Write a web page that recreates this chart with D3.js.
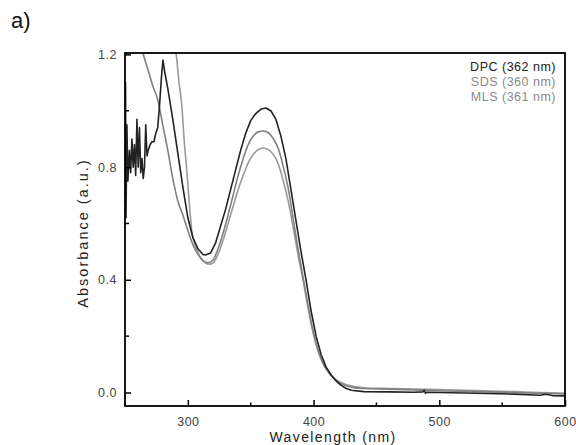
<!DOCTYPE html>
<html>
<head>
<meta charset="utf-8">
<script src="https://cdn.jsdelivr.net/npm/d3@7"></script>
<style>
  body { margin: 0; background: #fff; }
  svg { font-family: 'Liberation Sans', Arial, sans-serif; }
</style>
</head>
<body>
<svg width="576" height="445"></svg>
<script>
// wavelength (nm) / absorbance pairs
const dpcNm = [250, 250.4, 250.8, 251.5, 252.3, 253.5, 254.5, 255.5, 256.5, 257.5, 258.5, 259.5, 260.5, 261.5, 262.5, 263.5, 264.5, 265.5, 266.5, 267.5, 268.5, 270, 271.5, 273, 274.5, 276, 277.5, 279, 280.2, 281.5, 284, 288, 292, 296, 300, 304, 308, 312, 314, 318, 322, 326, 330, 334, 338, 342, 346, 350, 354, 358, 362, 366, 370, 374, 378, 382, 386, 390, 394, 398, 402, 406, 410, 414, 418, 422, 426, 430, 440, 460, 480, 487, 488, 489, 490, 520, 560, 580, 585, 590, 600]
const dpcAbs = [0.85, 1.10, 0.62, 0.95, 0.75, 0.86, 0.78, 0.90, 0.80, 0.88, 0.77, 0.97, 0.80, 0.94, 0.78, 0.83, 0.76, 0.80, 0.95, 0.84, 0.86, 0.88, 0.89, 0.89, 0.92, 0.94, 1.02, 1.12, 1.18, 1.14, 1.08, 0.97, 0.85, 0.73, 0.62, 0.55, 0.51, 0.49, 0.488, 0.495, 0.53, 0.59, 0.65, 0.72, 0.79, 0.86, 0.92, 0.965, 0.99, 1.005, 1.01, 1.0, 0.97, 0.91, 0.83, 0.72, 0.61, 0.50, 0.40, 0.29, 0.20, 0.135, 0.09, 0.062, 0.04, 0.025, 0.014, 0.008, 0.003, 0.002, 0.001, 0.002, 0.008, -0.003, 0.001, -0.002, -0.006, -0.010, -0.006, -0.011, -0.012]

const sdsNm = [262, 264, 268, 272, 276, 280, 284, 288, 292, 296, 300, 304, 308, 312, 316, 320, 324, 328, 332, 336, 340, 344, 348, 352, 356, 360, 364, 368, 372, 376, 380, 384, 388, 392, 396, 400, 404, 408, 412, 416, 420, 424, 430, 440, 460, 480, 500, 520, 540, 560, 580, 600]
const sdsAbs = [1.25, 1.21, 1.15, 1.09, 1.04, 0.95, 0.86, 0.76, 0.68, 0.63, 0.575, 0.525, 0.49, 0.468, 0.46, 0.47, 0.51, 0.565, 0.63, 0.70, 0.77, 0.83, 0.88, 0.91, 0.925, 0.928, 0.922, 0.90, 0.865, 0.80, 0.72, 0.61, 0.50, 0.40, 0.30, 0.21, 0.145, 0.10, 0.072, 0.052, 0.037, 0.027, 0.019, 0.014, 0.012, 0.009, 0.006, 0.004, 0.002, 0.0, -0.003, -0.005]

const mlsNm = [289, 290.6, 293, 295.3, 297, 299.3, 301, 303.3, 306, 310, 314, 317, 320, 324, 328, 332, 336, 340, 344, 348, 352, 356, 360, 364, 368, 372, 376, 380, 384, 388, 392, 396, 400, 404, 408, 412, 416, 420, 426, 432, 440, 460, 480, 500, 520, 540, 560, 580, 600]
const mlsAbs = [1.25, 1.205, 1.10, 1.013, 0.90, 0.78, 0.68, 0.567, 0.52, 0.48, 0.46, 0.455, 0.46, 0.49, 0.54, 0.60, 0.66, 0.72, 0.77, 0.815, 0.845, 0.862, 0.868, 0.862, 0.845, 0.81, 0.75, 0.675, 0.58, 0.48, 0.39, 0.29, 0.205, 0.14, 0.098, 0.07, 0.052, 0.039, 0.028, 0.021, 0.017, 0.014, 0.012, 0.01, 0.008, 0.005, 0.003, 0.0, -0.003]

const seriesNames = ['DPC (362 nm)', 'SDS (360 nm)', 'MLS (361 nm)']
const seriesColors = ['#222222', '#808080', '#9a9a9a']
const xTicks = [300, 400, 500, 600]
const xMinor = [250, 350, 450, 550]
const yTicks = [0.0, 0.4, 0.8, 1.2]
const yMinor = [0.2, 0.6, 1.0]

const svg = d3.select('svg')
const pLeft = 125, pRight = 565, pTop = 53, pBottom = 406

const x = d3.scaleLinear().domain([250, 600]).range([pLeft, pRight])
const y = d3.scaleLinear().domain([-0.048, 1.205]).range([pBottom, pTop])

svg.append('defs').append('clipPath').attr('id', 'clip')
  .append('rect')
  .attr('x', pLeft).attr('y', pTop)
  .attr('width', pRight - pLeft).attr('height', pBottom - pTop)

const series = [
  { nm: dpcNm, abs: dpcAbs },
  { nm: sdsNm, abs: sdsAbs },
  { nm: mlsNm, abs: mlsAbs }
]

const straight = d3.line().x(d => x(d[0])).y(d => y(d[1]))
const smooth = d3.line().x(d => x(d[0])).y(d => y(d[1])).curve(d3.curveMonotoneX)

// draw grey ones first, DPC on top
const order = [2, 1, 0]
order.forEach(i => {
  const pts = series[i].nm.map((n, j) => [n, series[i].abs[j]])
  svg.append('path')
    .attr('clip-path', 'url(#clip)')
    .attr('d', i === 0 ? straight(pts) : smooth(pts))
    .attr('fill', 'none')
    .attr('stroke', seriesColors[i])
    .attr('stroke-width', 1.6)
    .attr('stroke-linejoin', 'round')
})

// frame
svg.append('rect')
  .attr('x', pLeft).attr('y', pTop)
  .attr('width', pRight - pLeft).attr('height', pBottom - pTop)
  .attr('fill', 'none')
  .attr('stroke', '#000')
  .attr('stroke-width', 1.8)

// x axis ticks (inward)
const xAxis = svg.append('g').attr('transform', `translate(0,${pBottom})`)
xAxis.call(d3.axisBottom(x).tickValues(xTicks).tickSizeInner(-6).tickSizeOuter(0).tickPadding(11)
  .tickFormat(d3.format('d')))
xAxis.select('.domain').remove()
xAxis.selectAll('.tick line').attr('stroke', '#000').attr('stroke-width', 1.5)
xAxis.selectAll('text').attr('font-size', 12.5).attr('fill', '#444')
  .attr('letter-spacing', 0.5)
  .attr('font-family', "'Liberation Sans', Arial, sans-serif")
xAxis.selectAll('.minor').data(xMinor).enter().append('line')
  .attr('x1', d => x(d)).attr('x2', d => x(d))
  .attr('y1', 0).attr('y2', -3.5)
  .attr('stroke', '#000').attr('stroke-width', 1.5)

// y axis ticks (inward)
const yAxis = svg.append('g').attr('transform', `translate(${pLeft},0)`)
yAxis.call(d3.axisLeft(y).tickValues(yTicks).tickSizeInner(-6).tickSizeOuter(0).tickPadding(8)
  .tickFormat(d3.format('.1f')))
yAxis.select('.domain').remove()
yAxis.selectAll('.tick line').attr('stroke', '#000').attr('stroke-width', 1.5)
yAxis.selectAll('text').attr('font-size', 12.5).attr('fill', '#444')
  .attr('letter-spacing', 0.5)
  .attr('font-family', "'Liberation Sans', Arial, sans-serif")
yAxis.selectAll('.minor').data(yMinor).enter().append('line')
  .attr('x1', 0).attr('x2', 4)
  .attr('y1', d => y(d)).attr('y2', d => y(d))
  .attr('stroke', '#000').attr('stroke-width', 1.5)

// axis titles
svg.append('text')
  .attr('x', 333).attr('y', 442)
  .attr('text-anchor', 'middle')
  .attr('font-size', 14).attr('fill', '#222')
  .attr('letter-spacing', 1.4)
  .text('Wavelength (nm)')

svg.append('text')
  .attr('transform', 'translate(88,233) rotate(-90)')
  .attr('text-anchor', 'middle')
  .attr('font-size', 14.5).attr('fill', '#222')
  .attr('letter-spacing', 2)
  .text('Absorbance (a.u.)')

// legend
svg.selectAll('.legend').data(seriesNames).enter().append('text')
  .attr('x', 556)
  .attr('y', (d, i) => 71 + i * 15)
  .attr('text-anchor', 'end')
  .attr('font-size', 12.5)
  .attr('letter-spacing', 0.5)
  .attr('fill', (d, i) => i === 0 ? '#222' : '#8a8a8a')
  .text(d => d)

// panel label
svg.append('text')
  .attr('x', 11).attr('y', 28)
  .attr('font-size', 22).attr('fill', '#111')
  .text('a)')
</script>
</body>
</html>
